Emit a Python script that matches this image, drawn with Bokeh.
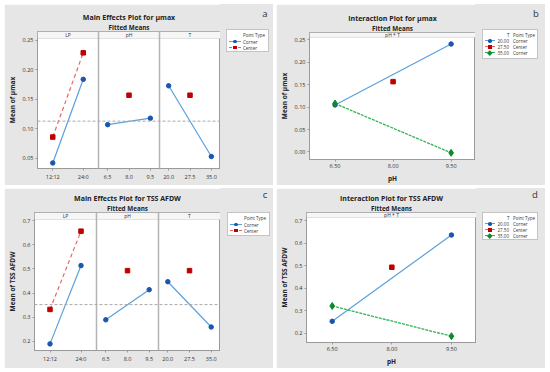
from bokeh.plotting import figure
from bokeh.layouts import row, column
from bokeh.models import (Range1d, FixedTicker, Span, BoxAnnotation, Label,
                          NumeralTickFormatter, Title, Spacer, Div)
from bokeh.embed import file_html
from bokeh.resources import INLINE

FONT = "Open Sans"
BG = "#e6e6e6"
BLUE = "#1a56b0"
BLUE_LINE = "#5aa0dc"
RED = "#c00000"
RED_LINE = "#e06868"
GREEN = "#0a8a2a"
GREEN_LINE = "#2fb552"
NB = "\u00a0"

# ---------------- data ----------------
lp_levels = ["12:12", "24:0"]
ph_levels = [6.5, 8.0, 9.5]
t_levels = [20.0, 27.5, 35.0]
corner_ph = [6.5, 9.5]
center_ph = [8.0]
corner_t = [20.0, 35.0]
center_t = [27.5]

# Main effects, mu max
mu_lp_corner = [0.042, 0.184]
mu_lp_center = [0.086, 0.229]
mu_ph_corner = [0.107, 0.118]
mu_ph_center = [0.157]
mu_t_corner = [0.173, 0.053]
mu_t_center = [0.157]
mu_mean = 0.113
mu_ticks = [0.05, 0.10, 0.15, 0.20, 0.25]

# Main effects, TSS AFDW
tss_lp_corner = [0.189, 0.514]
tss_lp_center = [0.332, 0.657]
tss_ph_corner = [0.289, 0.414]
tss_ph_center = [0.493]
tss_t_corner = [0.447, 0.259]
tss_t_center = [0.493]
tss_mean = 0.352
tss_ticks = [0.2, 0.3, 0.4, 0.5, 0.6, 0.7]

# Interaction pH * T
mu_int_t20 = [0.105, 0.241]
mu_int_t35 = [0.108, -0.002]
mu_int_center = [0.157]
mu_int_ticks = [0.00, 0.05, 0.10, 0.15, 0.20, 0.25]
tss_int_t20 = [0.254, 0.637]
tss_int_t35 = [0.322, 0.188]
tss_int_center = [0.494]

# legend texts
me_legend_title = "Point Type"
me_legend_labels = ["Corner", "Center"]
in_legend_title = ("T", "Point Type")
in_legend_levels = ["20.00", "27.50", "35.00"]
in_legend_types = ["Corner", "Center", "Corner"]


def base_fig(geom, xr, yr):
    left, top, bottom, w, h = geom
    p = figure(width=w, height=h, x_range=xr, y_range=yr, output_backend="svg",
               toolbar_location=None, title_location=None,
               min_border_left=left, min_border_right=0,
               min_border_top=top, min_border_bottom=bottom,
               background_fill_color="white", border_fill_color=BG,
               outline_line_color="#9a9a9a", outline_line_width=1)
    p.xgrid.visible = False
    p.ygrid.visible = False
    for ax in (p.xaxis[0], p.yaxis[0]):
        ax.major_label_text_font = FONT
        ax.major_label_text_font_size = "5.5px"
        ax.major_label_text_color = "#333333"
        ax.axis_line_color = "#9a9a9a"
        ax.major_tick_line_color = "#9a9a9a"
        ax.major_tick_out = 2
        ax.major_tick_in = 0
        ax.minor_tick_line_color = None
        ax.major_label_standoff = 2
        ax.axis_label_text_font = FONT
        ax.axis_label_text_font_size = "6.5px"
        ax.axis_label_text_font_style = "bold"
        ax.axis_label_standoff = 3
        ax.axis_label_text_color = "#222222"
    return p


def add_titles(p, title, pad):
    p.add_layout(Title(text="Fitted Means", align="center", text_font=FONT,
                       text_font_size="6.3px", text_font_style="bold",
                       text_color="#222222", standoff=0), "above")
    p.add_layout(Title(text=title, align="center", text_font=FONT,
                       text_font_size="7px", text_font_style="bold",
                       text_color="#222222", standoff=-2), "above")
    # thin spacer title at the very top
    p.add_layout(Title(text=NB, align="center", text_font=FONT, text_font_size="1px",
                       standoff=pad), "above")


def strip(p, geom, y0, y1, px, text_items):
    left, top, bottom, w, h = geom
    fh = h - top - bottom
    sb = y1 - (y1 - y0) * px / fh
    ym = y1 - (y1 - y0) * (px / 2) / fh
    p.add_layout(BoxAnnotation(bottom=sb, fill_color="#f6f6f6", fill_alpha=1,
                               line_color="#a8a8a8", line_width=1))
    for name, x in text_items:
        p.add_layout(Label(x=x, y=ym, text=name, text_font=FONT, text_font_size="5px",
                           text_align="center", text_baseline="middle",
                           text_color="#333333"))


def txt(x, y, s, size="4.5px", color="#333333", extra=""):
    return (f'<div style="position:absolute;left:{x}px;top:{y}px;transform:translateY(-50%);'
            f'font-size:{size};line-height:1;white-space:nowrap;color:{color};{extra}">{s}</div>')


def swatch(x0, x1, cy, lc, dash, marker, mc, ms):
    style = "solid" if dash is None else "dashed"
    out = (f'<div style="position:absolute;left:{x0}px;top:{cy - 0.6}px;width:{x1 - x0}px;'
           f'height:0;border-top:1.2px {style} {lc};"></div>')
    mx = (x0 + x1) / 2
    shape = {"circle": "border-radius:50%;", "square": "",
             "diamond": "transform:rotate(45deg);"}[marker]
    out += (f'<div style="position:absolute;left:{mx - ms / 2}px;top:{cy - ms / 2}px;'
            f'width:{ms}px;height:{ms}px;background:{mc};{shape}"></div>')
    return out


def side_div(sw, h, letter, lx, ly, box, rows_html):
    bx, by, bw, bh = box
    html = (f'<div style="position:relative;width:{sw}px;height:{h}px;background:{BG};'
            f'font-family:\'Open Sans\',sans-serif;overflow:hidden;">'
            f'<div style="position:absolute;left:{bx}px;top:{by}px;width:{bw}px;height:{bh}px;'
            f'background:white;border:1px solid #c4c4c4;box-sizing:border-box;">{rows_html}</div>'
            + txt(lx, ly, letter, size="9.5px", extra="transform:translate(-50%,-50%);")
            + '</div>')
    return Div(text=html, width=sw, height=h, margin=0,
               styles={"background-color": BG, "padding": "0", "margin": "0"})


def me_legend_rows():
    s = txt(16, 5, me_legend_title)
    s += swatch(1.5, 14, 11.5, BLUE_LINE, None, "circle", BLUE, 3.5)
    s += txt(16, 11.5, me_legend_labels[0])
    s += swatch(1.5, 14, 17.5, RED_LINE, "dash", "square", RED, 3.5)
    s += txt(16, 17.5, me_legend_labels[1])
    return s


def in_legend_rows():
    s = txt(24, 4.5, in_legend_title[0]) + txt(30, 4.5, in_legend_title[1])
    specs = [(BLUE_LINE, None, "circle", BLUE, 3.5),
             (RED_LINE, "dash", "square", RED, 3.5),
             (GREEN_LINE, "dash", "diamond", GREEN, 3.5)]
    for i, (lvl, typ, sp) in enumerate(zip(in_legend_levels, in_legend_types, specs)):
        cy = 11 + 6 * i
        s += swatch(2, 12, cy, *sp)
        s += txt(14.5, cy, lvl) + txt(30, cy, typ)
    return s


def main_effects(geom, title, ylabel, lp_c, lp_ctr, ph_c, ph_ctr, t_c, t_ctr,
                 mean, y0, y1, yticks, yfmt, pad):
    p = base_fig(geom, Range1d(0, 300), Range1d(y0, y1))

    def pos_lp(levels):
        return [25 + 50 * lp_levels.index(l) for l in levels]

    def pos_num(vals, lo, hi, off):
        return [int(round(off + 15 + 70 * (v - lo) / (hi - lo))) for v in vals]

    strip(p, geom, y0, y1, 7, (("LP", 50), ("pH", 150), ("T", 250)))

    ticks, labels = [], {}
    for l, x in zip(lp_levels, pos_lp(lp_levels)):
        ticks.append(x); labels[x] = l
    for v, x in zip(ph_levels, pos_num(ph_levels, 6.5, 9.5, 100)):
        ticks.append(x); labels[x] = f"{v:.1f}"
    for v, x in zip(t_levels, pos_num(t_levels, 20.0, 35.0, 200)):
        ticks.append(x); labels[x] = f"{v:.1f}"
    p.xaxis.ticker = FixedTicker(ticks=ticks)
    p.xaxis.major_label_overrides = labels
    p.yaxis.ticker = FixedTicker(ticks=yticks)
    p.yaxis.formatter = NumeralTickFormatter(format=yfmt)
    p.yaxis.axis_label = ylabel

    for s in (100, 200):
        p.add_layout(Span(location=s, dimension="height", line_color="#b4b4b4", line_width=1.5))
    p.add_layout(Span(location=mean, dimension="width", line_color="#a8a8a8",
                      line_dash="3 2", line_width=1))

    # corner (blue)
    p.line(pos_lp(lp_levels), lp_c, color=BLUE_LINE, line_width=1.2)
    p.line(pos_num(corner_ph, 6.5, 9.5, 100), ph_c, color=BLUE_LINE, line_width=1.2)
    p.line(pos_num(corner_t, 20.0, 35.0, 200), t_c, color=BLUE_LINE, line_width=1.2)
    p.scatter(pos_lp(lp_levels), lp_c, marker="circle", size=4.5, color=BLUE)
    p.scatter(pos_num(corner_ph, 6.5, 9.5, 100), ph_c, marker="circle", size=4.5, color=BLUE)
    p.scatter(pos_num(corner_t, 20.0, 35.0, 200), t_c, marker="circle", size=4.5, color=BLUE)
    # center (red)
    p.line(pos_lp(lp_levels), lp_ctr, color=RED_LINE, line_width=1.2, line_dash="4 3")
    p.scatter(pos_lp(lp_levels), lp_ctr, marker="square", size=4.5, color=RED)
    p.scatter(pos_num(center_ph, 6.5, 9.5, 100), ph_ctr, marker="square", size=4.5, color=RED)
    p.scatter(pos_num(center_t, 20.0, 35.0, 200), t_ctr, marker="square", size=4.5, color=RED)

    add_titles(p, title, pad)
    return p


def interaction(geom, title, ylabel, t20, t35, ctr, x0, x1, y0, y1, yticks, yfmt, pad):
    p = base_fig(geom, Range1d(x0, x1), Range1d(y0, y1))
    strip(p, geom, y0, y1, 5, (("pH * T", (x0 + x1) / 2),))
    p.xaxis.ticker = FixedTicker(ticks=ph_levels)
    p.xaxis.formatter = NumeralTickFormatter(format="0.00")
    p.xaxis.axis_label = "pH"
    p.yaxis.ticker = FixedTicker(ticks=yticks)
    p.yaxis.formatter = NumeralTickFormatter(format=yfmt)
    p.yaxis.axis_label = ylabel

    p.line(corner_ph, t20, color=BLUE_LINE, line_width=1.2)
    p.scatter(corner_ph, t20, marker="circle", size=4.5, color=BLUE)
    p.line(corner_ph, t35, color=GREEN_LINE, line_width=1.3, line_dash="3 1")
    p.scatter(corner_ph, t35, marker="diamond", size=7, color=GREEN)
    p.scatter(center_ph, ctr, marker="square", size=4.5, color=RED)
    add_titles(p, title, pad)
    return p


# geometry: left, top, bottom, width (frame right edge), height
GA = (33, 27, 17, 216, 181)
GB = (30, 28, 24, 199, 181)
GC = (29, 24, 18, 216, 180)
GD = (28, 24, 26, 200, 180)

pa = main_effects(GA, "Main Effects Plot for µmax", "Mean of µmax",
                  mu_lp_corner, mu_lp_center, mu_ph_corner, mu_ph_center,
                  mu_t_corner, mu_t_center, mu_mean, 0.0326, 0.2652, mu_ticks, "0.00", 3)
sa = side_div(53, 181, "a", 45, 10, (6, 25, 43, 23), me_legend_rows())

pb = interaction(GB, "Interaction Plot for µmax", "Mean of µmax",
                 mu_int_t20, mu_int_t35, mu_int_center, 5.84, 10.13, -0.0169, 0.2667,
                 mu_int_ticks, "0.00", 3)
sb = side_div(70, 181, "b", 61, 10, (7, 25, 56, 30), in_legend_rows())

pc = main_effects(GC, "Main Effects Plot for TSS AFDW", "Mean of TSS AFDW",
                  tss_lp_corner, tss_lp_center, tss_ph_corner, tss_ph_center,
                  tss_t_corner, tss_t_center, tss_mean, 0.1615, 0.7344, tss_ticks, "0.0", 0)
sc = side_div(53, 180, "c", 45, 7, (7, 24, 43, 24), me_legend_rows())

pd_ = interaction(GD, "Interaction Plot for TSS AFDW", "Mean of TSS AFDW",
                  tss_int_t20, tss_int_t35, tss_int_center, 5.853, 10.13, 0.160, 0.737,
                  tss_ticks, "0.0", 0)
sd = side_div(69, 180, "d", 59, 7, (6, 24, 56, 28), in_legend_rows())

top_row = row(Spacer(width=1), row(pa, sa), row(pb, sb), spacing=3)
bot_row = row(Spacer(width=1), row(pc, sc), row(pd_, sd), spacing=3)
layout = column(Spacer(height=1), top_row, bot_row, spacing=3)

open("out.html", "w").write(file_html(layout, INLINE))
